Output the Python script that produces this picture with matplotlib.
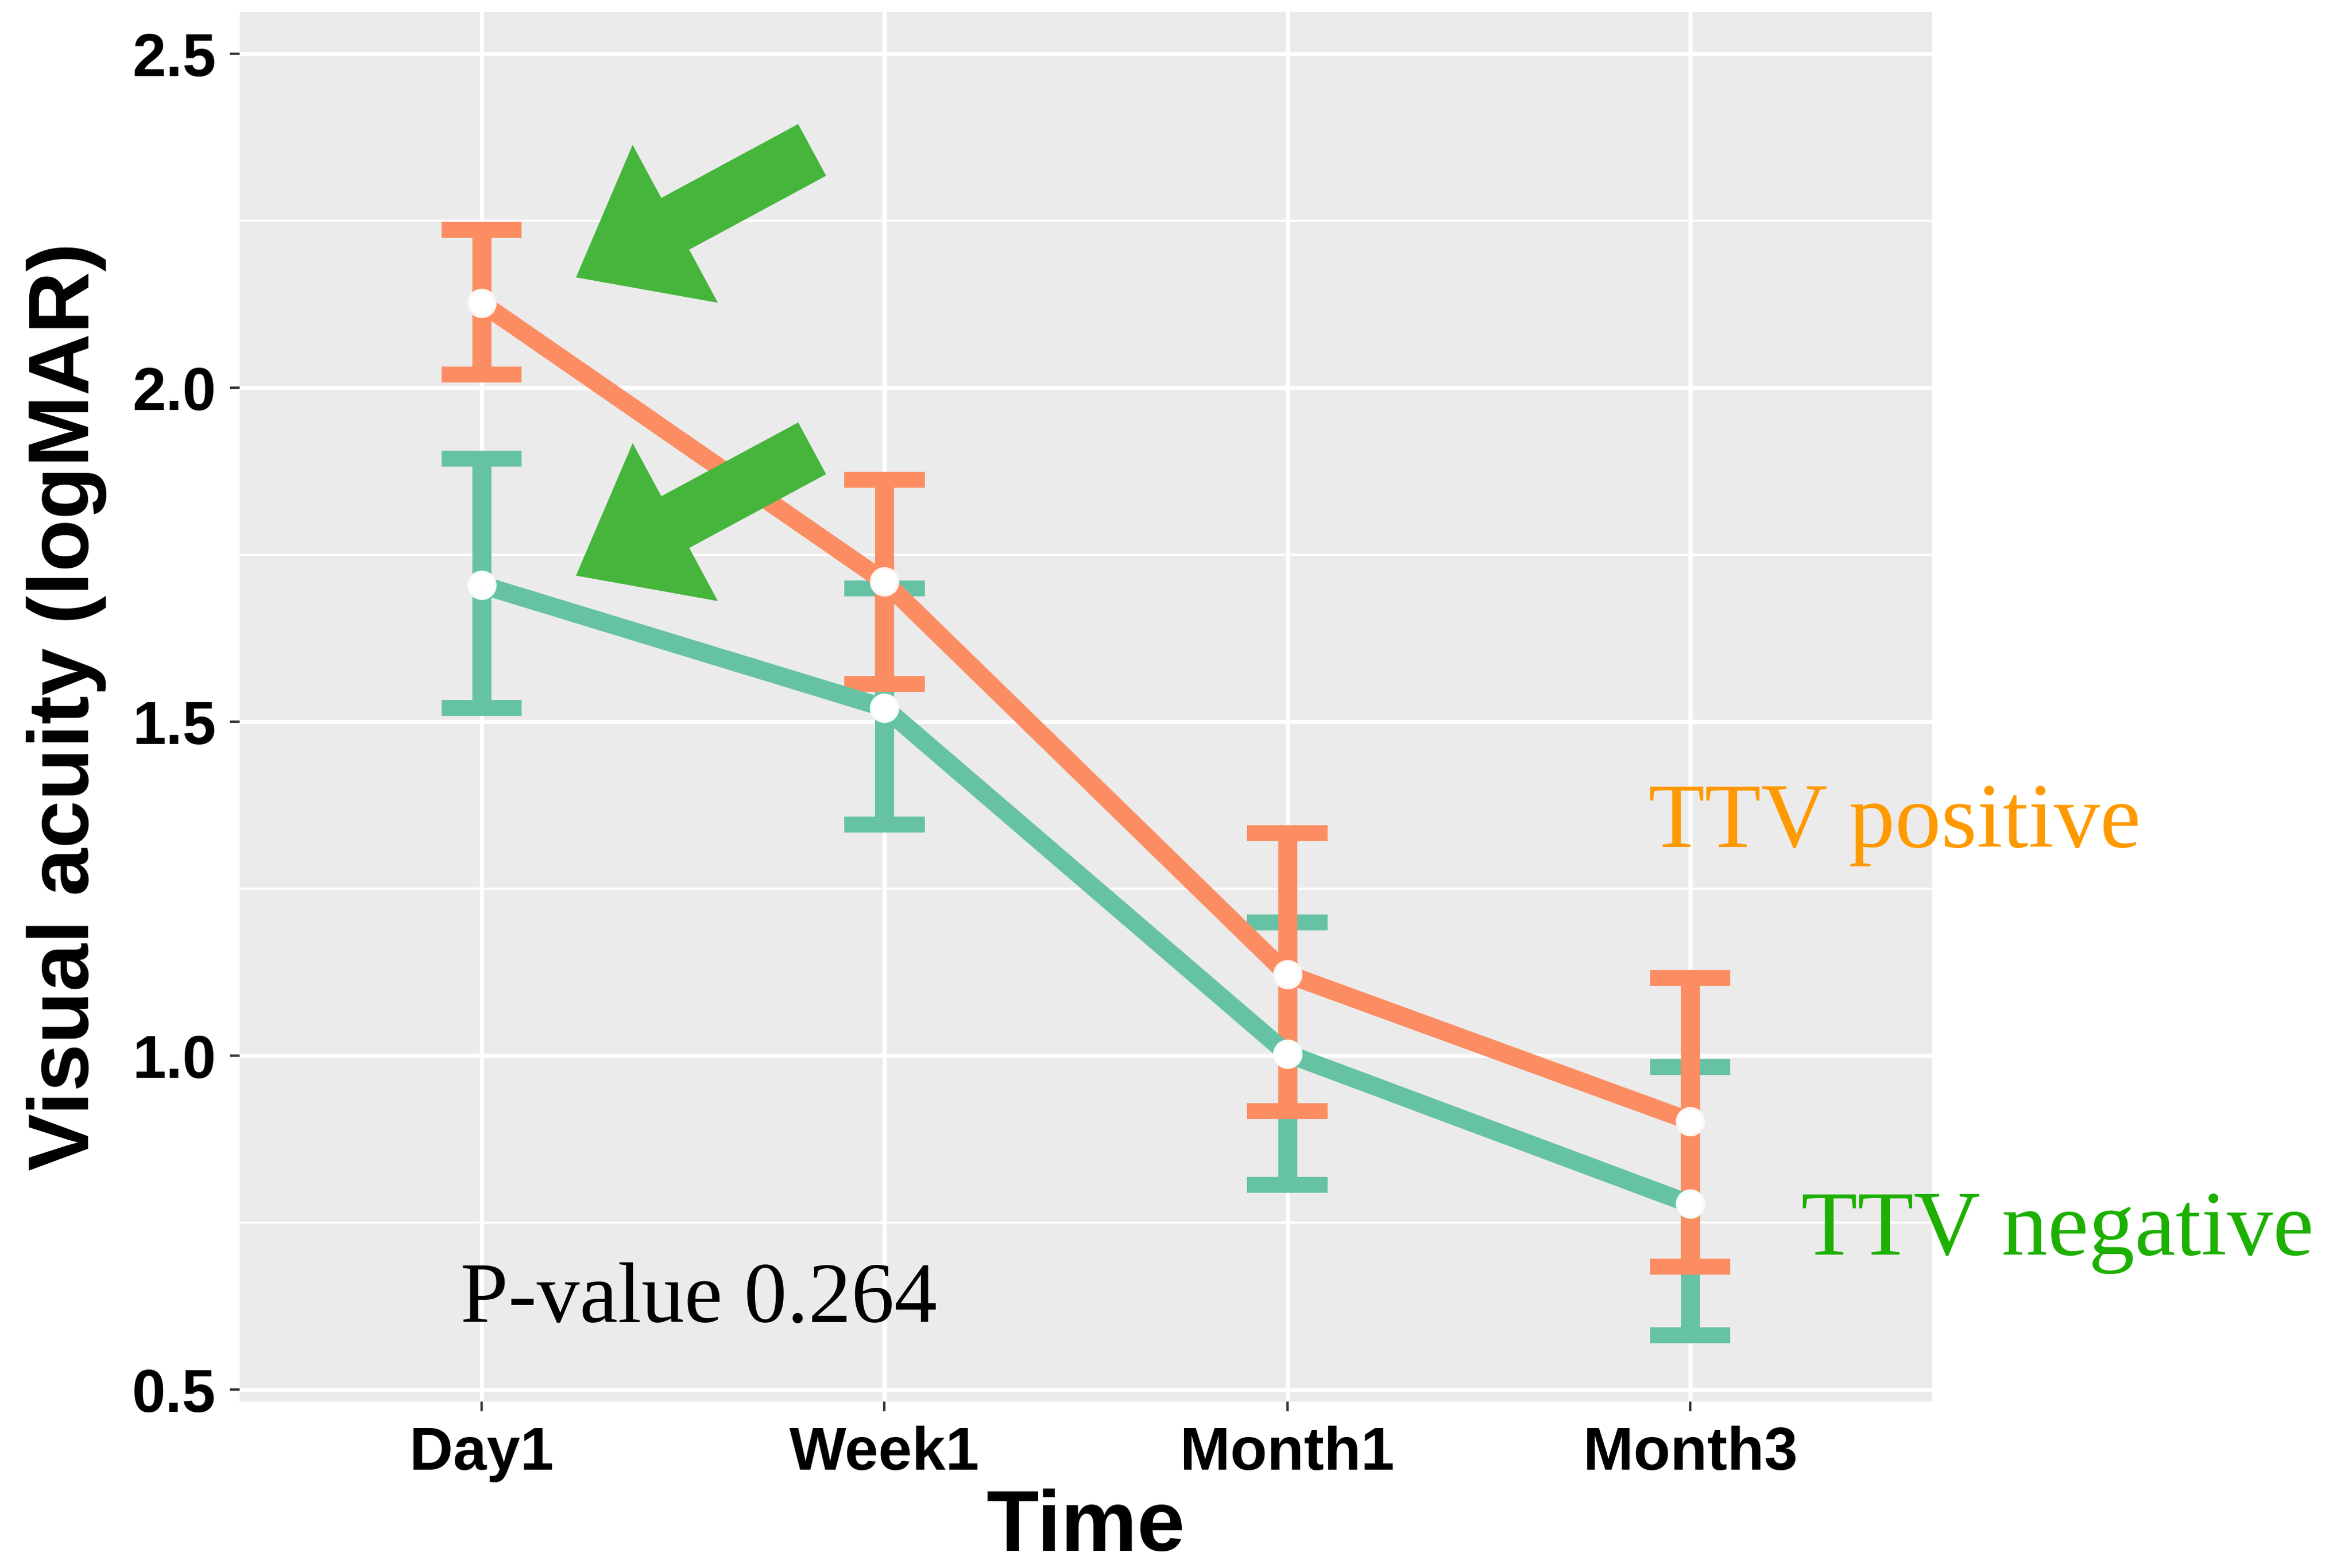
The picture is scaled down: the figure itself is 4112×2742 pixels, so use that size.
import matplotlib
matplotlib.use("Agg")
import matplotlib.pyplot as plt
import numpy as np

# data
times = ["Day1", "Week1", "Month1", "Month3"]
pos_mean = [2.127, 1.710, 1.122, 0.902]
pos_low = [2.020, 1.557, 0.917, 0.684]
pos_high = [2.237, 1.862, 1.333, 1.117]
neg_mean = [1.705, 1.521, 1.003, 0.778]
neg_low = [1.521, 1.346, 0.807, 0.581]
neg_high = [1.894, 1.700, 1.200, 0.983]

y_ticks = [0.5, 1.0, 1.5, 2.0, 2.5]

POS_COL = "#FC8D62"
NEG_COL = "#66C2A5"
ARROW_COL = "#46B53C"

fig = plt.figure(figsize=(20.56, 13.71), dpi=200)
ax = fig.add_axes([0.102, 0.1061, 0.7194, 0.8863])
ax.set_facecolor("#EBEBEB")
for s in ax.spines.values():
	s.set_visible(False)

x = np.arange(1, len(times) + 1)
cap_half = 0.1

# error bars (negative first, positive on top)
for mean, lo, hi, col in [(neg_mean, neg_low, neg_high, NEG_COL),
						  (pos_mean, pos_low, pos_high, POS_COL)]:
	ax.vlines(x, lo, hi, color=col, lw=12, zorder=3)
	ax.hlines(lo, x - cap_half, x + cap_half, color=col, lw=10, zorder=3)
	ax.hlines(hi, x - cap_half, x + cap_half, color=col, lw=10, zorder=3)

ax.plot(x, neg_mean, color=NEG_COL, lw=11.5, zorder=4, solid_capstyle="butt")
ax.plot(x, pos_mean, color=POS_COL, lw=11.5, zorder=4, solid_capstyle="butt")
ax.plot(x, neg_mean, "o", ms=17, mfc="white", mec="#F4FFFA", mew=1.5, zorder=5)
ax.plot(x, pos_mean, "o", ms=17, mfc="white", mec="#FFF6F2", mew=1.5, zorder=5)

ax.set_xlim(0.4, len(times) + 0.6)
ax.set_ylim(0.482, 2.563)
ax.set_xticks(x)
ax.set_xticklabels(times)
ax.set_yticks(y_ticks)
ax.set_yticklabels(["%.1f" % v for v in y_ticks])
ax.set_yticks([0.75, 1.25, 1.75, 2.25], minor=True)
ax.grid(which="major", color="white", lw=2.6, zorder=0)
ax.grid(which="minor", axis="y", color="white", lw=1.3, zorder=0)
ax.set_axisbelow(True)
ax.tick_params(which="major", length=6, width=1.5, color="#333333", pad=9,
			   labelsize=38)
ax.tick_params(which="minor", length=0)
for lab in ax.get_xticklabels() + ax.get_yticklabels():
	lab.set_fontfamily("Liberation Sans")
	lab.set_fontweight("bold")

ax.set_xlabel("Time", fontsize=54, fontweight="bold", family="Liberation Sans", labelpad=4)
ax.set_ylabel("Visual acuity (logMAR)", fontsize=54, fontweight="bold",
			  family="Liberation Sans", labelpad=16)

# annotations
ax.text(3.896, 1.3126, "TTV positive", color="#FF9900", fontsize=58,
		family="Liberation Serif", va="baseline", ha="left", clip_on=False)
ax.text(4.276, 0.702, "TTV negative", color="#1DB000", fontsize=58,
		family="Liberation Serif", va="baseline", ha="left", clip_on=False)
ax.text(0.948, 0.601, "P-value 0.264", color="black", fontsize=54,
		family="Liberation Serif", va="baseline", ha="left")

# big green arrows pointing at the Day1 points
arrow_style = "simple,head_length=71,head_width=113,tail_width=37"
for tip, tail in [((0.2449, 0.8231), (0.3453, 0.9044)),
				  ((0.2449, 0.6329), (0.3453, 0.7141))]:
	fig.patches.append(matplotlib.patches.FancyArrowPatch(
		tail, tip, transform=fig.transFigure, arrowstyle=arrow_style,
		mutation_scale=1, color=ARROW_COL, lw=0, shrinkA=0, shrinkB=0, zorder=10))

fig.savefig("out.png", dpi=200, facecolor="white")
